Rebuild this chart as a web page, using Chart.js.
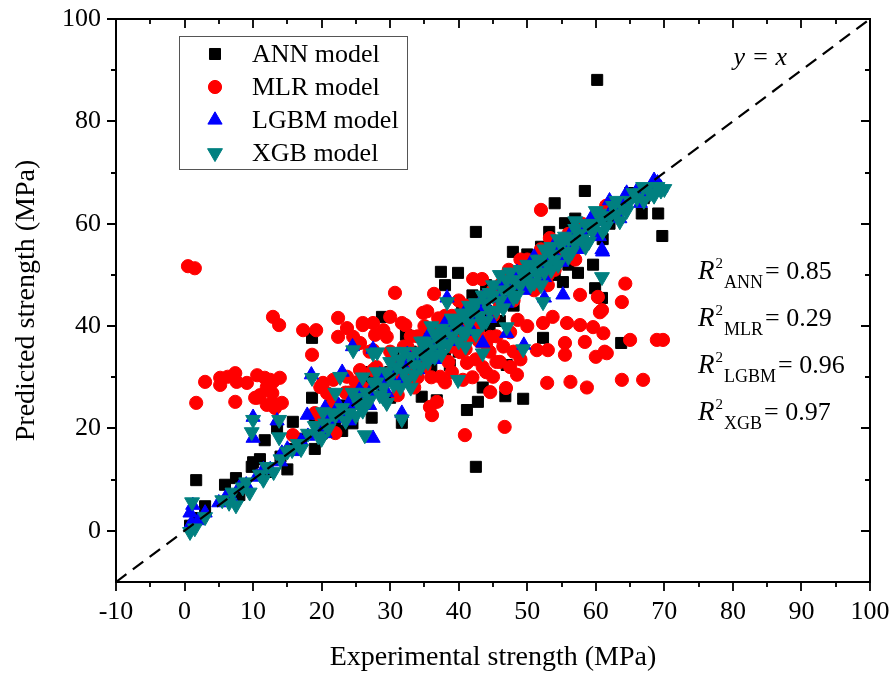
<!DOCTYPE html>
<html><head><meta charset="utf-8">
<script src="https://cdn.jsdelivr.net/npm/chart.js@4.4.1/dist/chart.umd.min.js"></script>
<style>html,body{margin:0;padding:0;background:#fff;}canvas{display:block;}</style>
</head><body>
<canvas id="c" width="895" height="682"></canvas>
<script>
const xTickValues = [-10,0,10,20,30,40,50,60,70,80,90,100];
const yTickValues = [0,20,40,60,80,100];
const axisRange = [-10,100];
const identityLine = [[-10,-10],[100,100]];
const legendLabels = ['ANN model','MLR model','LGBM model','XGB model'];
const r2Names = ['ANN','MLR','LGBM','XGB'];
const r2Values = ['0.85','0.29','0.96','0.97'];
const xTitle = 'Experimental strength (MPa)';
const yTitle = 'Predicted strength (MPa)';

const annData = [[1.7,9.9],[3,4.8],[2,2.5],[0.8,1],[5.9,9],[7.5,10.3],[8,7],[9.8,12.5],[10,13.4],[11.7,17.7],[12,11.5],[13.5,20.1],[14,14.5],[15.8,21.3],[16,16],[17,18],[18.6,37.7],[18.6,26],[19,22.4],[20,19],[21,22],[22,21],[23,24.5],[24,23],[25,27],[26,25],[27.3,22.1],[28,30],[28.8,41.8],[29,28],[30,31],[31.7,21.1],[32.3,38.3],[32,32],[33,35],[34.6,26.2],[35,34],[36,37],[36.8,25.5],[37,36],[37.4,50.6],[38,48],[38.7,32.4],[39,40],[39.9,50.4],[40,39],[41,42],[41.2,23.6],[42,41],[42.5,58.4],[42.5,12.5],[42.8,25.2],[43.5,28],[43,44],[44,43],[45,46],[46,45],[46.8,26.3],[47,32.4],[47.9,54.5],[47,48],[48,47],[49.4,25.8],[49,50],[50,49],[51,52],[52,50],[52.3,37.7],[53.2,58.4],[53,54],[54,64],[55,53],[55.2,48.6],[55.5,60.1],[56,57],[57.4,50.4],[58,59],[58.4,66.4],[59.6,52],[59.9,47.4],[60.2,88.1],[60,61],[60.9,45.5],[62,60],[63.7,36.7],[64,63],[66.7,62],[69.1,62],[69.7,57.6],[65,66],[67,65],[44.5,40],[40.5,44],[35.5,39],[33.5,30],[30.5,34],[26.5,29],[24.5,21],[21.5,25],[30,26],[34,38],[38,34],[42,46],[46,41],[50,54],[54,50],[57,61],[61,57],[27,31],[23,19.5],[19,16],[15,12],[11,14],[36,32],[40,35],[44,48],[48,44],[52,55.5],[56,52]];

const mlrData = [[0.5,51.7],[1.5,51.3],[1.7,25],[3,29.1],[5.2,29.9],[5.2,28.5],[6.3,30.1],[7.4,30.8],[7.6,29.1],[7.4,25.2],[9.1,28.9],[10.6,30.4],[10.6,26],[10.3,26],[11,26.5],[11.7,29.9],[12,24.6],[12,28.1],[12.5,29.5],[12.8,26.9],[12.9,29.1],[12.9,25],[13.2,24],[13.9,29.9],[14.2,25],[12.9,41.8],[13.8,40.2],[15.8,18.7],[17.3,39.2],[19.2,39.2],[18.6,34.4],[19.8,28.1],[20.2,28.9],[20.8,26.9],[21.7,29.5],[21.7,25.2],[22,19.1],[22.4,41.6],[23.7,39.6],[22.4,37.9],[24.6,37.9],[23.7,30.1],[23.5,27],[25.6,36.7],[25.6,31.4],[26,40.6],[26,40.2],[27.5,40.6],[27.5,35.3],[27.5,31.4],[27.8,38.3],[29,39.2],[29,30],[29.5,37.9],[30,41.8],[30,30.8],[30.7,46.5],[31.1,26.5],[31.7,40.6],[32.2,40.2],[32.5,36],[33,33],[33.5,28],[34.8,42.6],[35.4,42.9],[35.8,24.2],[36.1,22.6],[36.4,46.3],[36.8,25.2],[37.3,30.1],[37.7,39.2],[37,41.5],[38,37],[38.5,33],[39,36],[40.2,40.6],[40.2,34.9],[40.6,29.5],[40.9,18.7],[41.2,32.8],[41.5,38],[42.1,49.2],[42.8,38.8],[43.4,49.2],[43.5,32],[44,36.5],[44.6,37.9],[44.6,27.1],[45,30.1],[45.5,33],[45.5,38],[46.7,20.3],[46.9,27.9],[47.3,51],[47.5,38.8],[48,35],[48.6,41.2],[49,33.5],[50,53],[50,40],[51.4,35.3],[52,62.7],[52.3,40.6],[52.9,28.9],[53,48],[53.3,57.2],[53.7,41.8],[53,35.3],[55.5,36.7],[55.5,34.4],[55.8,40.6],[56.3,29.1],[57.7,40.2],[57.7,46.1],[58.4,36.9],[58.7,28],[59.6,39.8],[60,34],[60.3,45.7],[60.6,42.7],[60.9,43.1],[61.1,38.6],[61.3,35],[61.5,63.5],[61.6,34.7],[63.8,44.7],[63.8,29.5],[64.3,48.3],[65,37.3],[66.9,29.5],[68.9,37.3],[69.8,37.3],[39,31],[40,37],[41,35.5],[42,30],[42.5,33.5],[43,37],[44,31],[44.5,35],[46,33],[46.5,36],[47.5,32],[48.5,30.5],[36,30],[35,32],[34,30],[37,34],[38,29],[27,35],[33,38],[35,40],[40,45],[45,47],[48,50],[50,52],[55,55],[56,58],[58,60],[36,38],[31,33],[25,29],[22,24],[20,22],[57,53],[54,51],[51,47],[46,44],[43,41],[28,32],[30,35],[32,36],[34,38],[37,40],[39,42],[41,44],[44,46],[47,50],[49,53],[52,55],[46,48],[38,42],[35,36],[33,31],[31,30],[42,40],[45,42],[48,45],[53,50],[24,27],[26,28],[19,23],[21,24]];

const lgbmData = [[0.8,3.5],[1,1.5],[1.2,5],[2,2],[3,3.5],[5,5.5],[6,6.5],[7,6],[8,8.5],[9,9],[10,22.2],[10,18.1],[10.5,10.5],[11.5,12],[12.5,12],[13.5,21.5],[14,13.5],[14.2,15.2],[15,16],[16,15.5],[17,17.5],[17.9,22.6],[18.5,30.5],[18,18.5],[19,19],[20,20.5],[20.5,24],[21,21.5],[22,23],[23,31],[23,22],[24.5,36],[24,25],[25,24.5],[26,26.5],[27,27],[27.5,18.1],[27.5,35.5],[28,28.5],[29,29.5],[30,30],[31,31.5],[31.7,23],[32,32],[33,33.5],[34,34],[35,35.5],[36,36],[37,37.5],[38,38],[38.3,45.5],[39,39.5],[40,40],[41,41.5],[42,42],[43,43.5],[43.5,36.7],[44,44],[45,45.5],[46,46],[47,38.6],[47,47.5],[48,48],[49,49.5],[49.5,36.3],[50,50],[51,51.5],[52,52],[52.5,45.5],[53,53.5],[54,54],[55,55.5],[55.2,46.1],[56,56],[57,57.5],[58,58],[59,59],[60,60.5],[60.9,54.9],[61,54.5],[62,62],[63,63.5],[64,64],[65,65],[66,66.5],[67,66],[68,67],[69,68],[69.5,67],[20.5,19],[22.5,24.5],[24,21.5],[25.5,27.5],[27,24.5],[28.5,30.5],[29.5,27],[31.5,29],[32.5,34.5],[34,31.5],[35.5,38],[36.5,33.5],[38,40.5],[39.5,37],[41,43],[42,39],[43.5,45.5],[44.5,41.5],[46,48],[47,44.5],[48.5,50.5],[49.5,47],[51,53.5],[52.5,49.5],[54,56],[55,52.5],[56.5,58.5],[57.5,55],[59.5,61.5],[60.5,57.5],[62,64.5],[63.5,61],[64.5,66],[66.5,64],[68.5,68.5]];

const xgbData = [[0.8,-0.2],[1.1,5.6],[1.5,0.5],[3,2.7],[5.5,6],[6.5,5.5],[7,7.5],[7.5,5],[8.5,8.5],[9,9.5],[9.5,7.5],[10,21.7],[9.8,19.3],[11,11],[11.5,10],[12,12.5],[13,11.5],[13.8,21.7],[13.8,18.3],[14,14],[15,15.5],[15.7,15.8],[16.5,17],[17,16],[18,19],[18.6,29.9],[19,20.5],[19.5,18.5],[20.2,23.2],[20.5,21],[21,20],[22,22.5],[22.7,30.1],[23,24],[24,23],[24.6,35.3],[25,26],[25.5,24.5],[26.3,18.7],[26.5,27],[27,25.5],[27.5,34.7],[28.1,34.9],[28,29],[29,28],[29.5,31],[30,30],[31,32],[31.7,21.8],[32,31],[33,34],[33.5,32.5],[34,35],[35,34],[35.5,36.5],[36,35.5],[37,37.5],[37.5,36],[38,39],[38.3,44.7],[39,38],[39.5,40],[39.9,29.5],[40,41],[40.5,39],[41,42],[41.5,40.5],[42,43],[43,42],[43.5,34.7],[44,44.5],[44.5,43],[45,46],[46,45],[46.5,47],[47,39.8],[47.5,47],[48,49],[49,48],[49.4,35.5],[49.5,50],[50,49.5],[51,51.5],[51.5,50],[52,53],[52.3,44.7],[53,52],[53.5,54],[54,53],[55,56],[55.5,54.5],[56,57],[57,56],[57.5,58],[58,57],[59,59.5],[59.5,58.5],[60,60],[60.9,49.6],[61,61],[62,61.5],[63,62],[64,63],[65,64.5],[66,65],[66.9,67.2],[68,66],[69,67.2],[69.5,66.5],[20,18],[21.5,23],[23.5,21.5],[24.5,27],[26,23.5],[27.5,29],[28.5,26.5],[30.5,28.5],[31.5,33.5],[32.5,29.5],[34.5,32],[35,37],[36.5,34],[37.5,39.5],[38.5,36.5],[40.5,42.5],[41,38.5],[42.5,44.5],[43.5,40.5],[44.5,46.5],[45.5,43],[47,49],[48,45.5],[49,51],[50.5,48],[51.5,53],[52.5,50.5],[53.5,55.5],[54.5,52],[55.5,57.5],[56.5,54.5],[58.5,60],[59,56.5],[60.5,62],[61.5,59.5],[63,64.5],[64.5,62.5],[67.5,67],[68.5,65.5],[70,66.8],[30.5,35],[33,28],[36,40],[41,36],[46,50],[52,48],[57,60.5],[22,27],[26,30],[29.5,25],[25,22.5],[26.5,25],[28,31],[29,26],[30,33],[31.5,28],[32,35],[33.5,30.5],[34.5,37],[35.5,33],[36.5,38.5],[37.5,34.5],[39,41.5],[40,37],[41.5,44],[42.5,38.5],[43.5,46],[44,41],[45,48],[46.5,43.5],[47.5,50.5],[48.5,46],[50,52],[51,48.5],[52.5,55],[53.5,51],[54.5,57],[56,53.5],[57,59],[58.5,55.5],[60,62.5],[61,58.5],[62.5,63.5],[63.5,60.5],[65.5,66],[67,64.5]];

const FONT = "'Liberation Serif','Times New Roman',serif";
const toXY = arr => arr.map(p => ({x:p[0], y:p[1]}));

const styles = [
  {pointStyle:'rect', color:'#000000', radius:7.8, rotation:0},
  {pointStyle:'circle', color:'#ff0000', radius:6.6, rotation:0},
  {pointStyle:'triangle', color:'#0000ff', radius:8.2, rotation:0},
  {pointStyle:'triangle', color:'#008080', radius:8.6, rotation:180}
];
const seriesData = [annData, mlrData, lgbmData, xgbData];

const datasets = seriesData.map((d,i)=>({
  label: legendLabels[i],
  data: toXY(d),
  pointStyle: styles[i].pointStyle,
  pointRotation: styles[i].rotation,
  pointRadius: styles[i].radius,
  pointBackgroundColor: styles[i].color,
  pointBorderColor: styles[i].color,
  pointBorderWidth: 1,
  showLine:false,
  order: 4 - i
}));
datasets.push({
  label:'y = x',
  data: toXY(identityLine),
  showLine:true,
  borderColor:'#000',
  borderWidth:2.2,
  borderDash:[13,8],
  pointRadius:0,
  fill:false,
  order:0
});

function drawMarker(ctx, st, x, y){
  ctx.save();
  ctx.fillStyle = st.color; ctx.strokeStyle = st.color; ctx.lineWidth = 1;
  if (Chart.helpers && Chart.helpers.drawPoint) {
    Chart.helpers.drawPoint(ctx, {pointStyle:st.pointStyle, radius:st.radius, rotation:st.rotation, borderWidth:1}, x, y);
  }
  ctx.restore();
}

const framePlugin = {
  id:'frame',
  afterDraw(chart){
    const {ctx, chartArea:a, scales:{x,y}} = chart;
    ctx.save();
    ctx.strokeStyle='#000';
    ctx.lineWidth=2;
    ctx.strokeRect(a.left, a.top, a.right-a.left, a.bottom-a.top);
    const maj=9, mnr=5;
    ctx.lineWidth=1.8;
    ctx.beginPath();
    xTickValues.forEach((v,i)=>{
      const px=Math.round(x.getPixelForValue(v));
      ctx.moveTo(px,a.bottom); ctx.lineTo(px,a.bottom+maj);
      ctx.moveTo(px,a.top); ctx.lineTo(px,a.top+maj);
      if(i<xTickValues.length-1){
        const pm=Math.round(x.getPixelForValue((v+xTickValues[i+1])/2));
        ctx.moveTo(pm,a.bottom); ctx.lineTo(pm,a.bottom+mnr);
        ctx.moveTo(pm,a.top); ctx.lineTo(pm,a.top+mnr);
      }
    });
    yTickValues.forEach((v,i)=>{
      const py=Math.round(y.getPixelForValue(v));
      ctx.moveTo(a.left,py); ctx.lineTo(a.left-maj,py);
      ctx.moveTo(a.right,py); ctx.lineTo(a.right-maj,py);
      if(i<yTickValues.length-1){
        const pm=Math.round(y.getPixelForValue((v+yTickValues[i+1])/2));
        ctx.moveTo(a.left,pm); ctx.lineTo(a.left-mnr,pm);
        ctx.moveTo(a.right,pm); ctx.lineTo(a.right-mnr,pm);
      }
    });
    ctx.stroke();

    // legend
    const lx=a.left+63, ly=a.top+17, lw=228, lh=133;
    ctx.fillStyle='#fff';
    ctx.fillRect(lx,ly,lw,lh);
    ctx.lineWidth=1;
    ctx.strokeStyle='#555';
    ctx.strokeRect(lx+0.5,ly+0.5,lw,lh);
    legendLabels.forEach((t,i)=>{
      const cy=ly+18+i*33;
      drawMarker(ctx, styles[i], lx+36, cy);
      ctx.fillStyle='#000';
      ctx.font='26px '+FONT;
      ctx.textAlign='left'; ctx.textBaseline='middle';
      ctx.fillText(t, lx+73, cy+1);
    });

    // y = x label
    ctx.fillStyle='#000';
    ctx.font='italic 26px '+FONT;
    ctx.textAlign='center'; ctx.textBaseline='middle';
    ctx.fillText('y = x', x.getPixelForValue(84), y.getPixelForValue(92.3));

    // R^2 annotations
    r2Names.forEach((n,i)=>{
      const bx=a.right-172, by=a.top+260+i*47;
      ctx.textAlign='left'; ctx.textBaseline='alphabetic';
      ctx.font='italic 27px '+FONT;
      ctx.fillText('R', bx, by);
      const rw=ctx.measureText('R').width;
      ctx.font='15px '+FONT;
      ctx.fillText('2', bx+rw+1, by-11);
      const supw=ctx.measureText('2').width;
      ctx.font='18px '+FONT;
      const sx=bx+rw+supw+2;
      ctx.fillText(n, sx, by+9);
      const sw=ctx.measureText(n).width;
      ctx.font='26px '+FONT;
      ctx.fillText('= '+r2Values[i], sx+sw+2, by);
    });
    ctx.restore();
  }
};

new Chart(document.getElementById('c'), {
  type:'scatter',
  data:{datasets},
  options:{
    responsive:false,
    animation:false,
    layout:{padding:{top:19,right:25,left:0,bottom:0}},
    plugins:{legend:{display:false}, tooltip:{enabled:false}},
    scales:{
      x:{
        type:'linear', min:axisRange[0], max:axisRange[1],
        afterBuildTicks:s=>{s.ticks=xTickValues.map(v=>({value:v}));},
        afterFit:s=>{s.height=100; s.paddingLeft=0; s.paddingRight=0;},
        grid:{display:false, drawTicks:false},
        border:{display:false},
        ticks:{color:'#000', font:{family:FONT,size:26}, padding:15, maxRotation:0, autoSkip:false},
        title:{display:true, text:xTitle, color:'#000', font:{family:FONT,size:28}, padding:{top:0,bottom:8}}
      },
      y:{
        type:'linear', min:axisRange[0], max:axisRange[1],
        afterBuildTicks:s=>{s.ticks=yTickValues.map(v=>({value:v}));},
        afterFit:s=>{s.width=116; s.paddingTop=0; s.paddingBottom=0;},
        grid:{display:false, drawTicks:false},
        border:{display:false},
        ticks:{color:'#000', font:{family:FONT,size:26}, padding:15, autoSkip:false},
        title:{display:true, text:yTitle, color:'#000', font:{family:FONT,size:28}, padding:{top:10,bottom:0}}
      }
    }
  },
  plugins:[framePlugin]
});
</script>
</body></html>
